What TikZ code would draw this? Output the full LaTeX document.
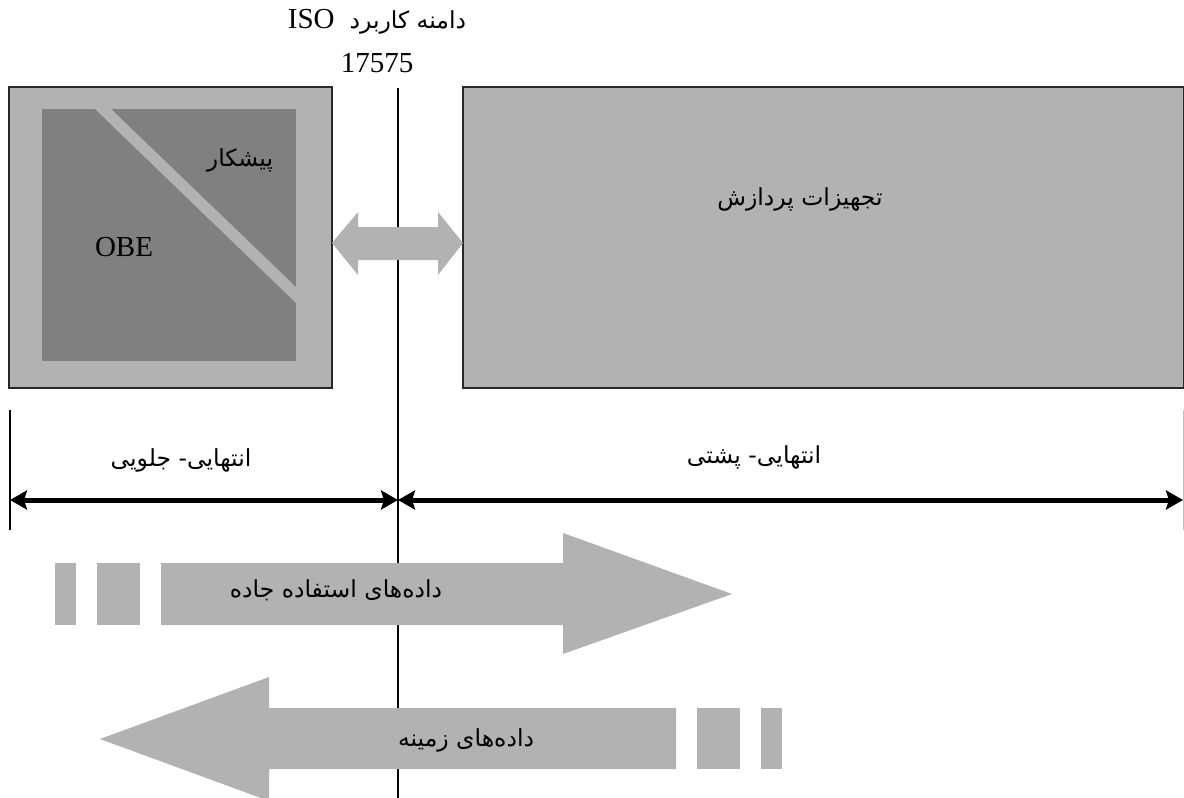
\documentclass[tikz,border=0pt]{standalone}
\usepackage{fontspec}
\setmainfont{Liberation Serif}
\newfontfamily\arabicfont[Script=Arabic]{DejaVu Sans}
\TeXXeTstate=1
\usetikzlibrary{arrows.meta}
\definecolor{lgray}{RGB}{178,178,178}
\definecolor{dgray}{RGB}{128,128,128}
\definecolor{bord}{RGB}{40,40,40}
\begin{document}
\begin{tikzpicture}[x=1pt,y=-1pt,
  lat/.style={font=\fontsize{29}{32}\selectfont, inner sep=0pt},
  ar/.style={font=\arabicfont\fontsize{23.5}{28}\selectfont, inner sep=0pt},
  dimline/.style={line width=5pt, {Stealth[length=17pt,width=19pt,inset=3pt]}-{Stealth[length=17pt,width=19pt,inset=3pt]}},
  boxst/.style={draw=bord, line width=2pt, fill=lgray, anchor=north west, inner sep=0pt, outer sep=0pt}]
\useasboundingbox (0,0) rectangle (1184,798);
% central line
\coordinate (vt) at (398,88);
\coordinate (vb) at (398,798);
\draw[line width=1.6pt] (vt) -- (vb);
% front-end box
\node[boxst, minimum width=323pt, minimum height=301pt] (fe) at (9,87) {};
\node[fill=dgray, draw=none, anchor=north west, inner sep=0pt, minimum width=254pt, minimum height=252pt] (inner) at (42,109) {};
\fill[lgray] (95,109) -- (111,109) -- (296,287) -- (296,303) -- cycle;
\node[ar] (pish) at (240,160) {\beginR پیشکار\endR};
\node[lat] (obe) at (124,247) {OBE};
% back-end box
\node[boxst, minimum width=721pt, minimum height=301pt] (be) at (463,87) {};
\node[ar] (tj) at (800,199) {\beginR تجهیزات پردازش\endR};
% double block arrow
\fill[lgray] (fe.east |- 0,243) -- (358,212) -- (358,227) -- (438,227) -- (438,212) -- (be.west |- 0,243) -- (438,275) -- (438,260) -- (358,260) -- (358,275) -- cycle;
% title
\node[ar] (t1) at (377,22) {\beginR دامنه کاربرد\ \ {\rmfamily\fontsize{29}{32}\selectfont\beginL ISO\endL}\endR};
\node[lat] (t2) at (377,63) {17575};
% dimension lines
\coordinate (dl) at (10,500);
\coordinate (dm) at (398,500);
\coordinate (dr) at (1183,500);
\coordinate (tlt) at (10,410);
\coordinate (tlb) at (10,530);
\coordinate (trt) at (1183,410);
\coordinate (trb) at (1183,530);
\draw[line width=1.6pt] (tlt) -- (tlb);
\draw[line width=0.8pt, black!25] (trt) -- (trb);
\draw[dimline] (dl) -- (dm);
\draw[dimline] (dm) -- (dr);
\node[ar] (fel) at (181,460) {\beginR انتهایی- جلویی\endR};
\node[ar] (bel) at (754,457) {\beginR انتهایی- پشتی\endR};
% data arrow right
\fill[lgray] (55,563) rectangle (76,625);
\fill[lgray] (97,563) rectangle (140,625);
\fill[lgray] (161,563) -- (563,563) -- (563,533) -- (732,594) -- (563,654) -- (563,625) -- (161,625) -- cycle;
\node[ar] (road) at (336,590) {\beginR داده‌های استفاده جاده\endR};
% data arrow left
\fill[lgray] (100,739) -- (269,677) -- (269,708) -- (676,708) -- (676,769) -- (269,769) -- (269,801) -- cycle;
\fill[lgray] (697,708) rectangle (740,769);
\fill[lgray] (761,708) rectangle (782,769);
\node[ar] (ctx) at (466,740) {\beginR داده‌های زمینه\endR};
\end{tikzpicture}
\end{document}
